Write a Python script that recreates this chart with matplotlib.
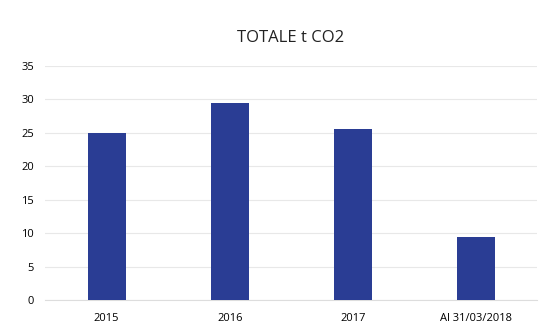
import matplotlib.pyplot as plt

categories = ["2015", "2016", "2017", "Al 31/03/2018"]
values = [25.0, 29.4, 25.6, 9.4]
yticks = [0, 5, 10, 15, 20, 25, 30, 35]

plt.rcParams['font.family'] = ['Open Sans', 'DejaVu Sans']

fig = plt.figure(figsize=(5.51, 3.28), dpi=100)
ax = fig.add_axes([0.082, 0.085, 0.893, 0.714])

x = range(len(categories))
ax.bar(x, values, width=0.31, color='#2a3d94', zorder=3)

ax.set_xlim(-0.5, len(categories) - 0.5)
ax.set_ylim(0, 35)
ax.set_yticks(yticks)
ax.set_xticks(list(x))
ax.set_xticklabels(categories, fontsize=8)
ax.tick_params(axis='y', labelsize=8, length=0, pad=8)
ax.tick_params(axis='x', length=0, pad=9)
ax.grid(axis='y', color='#e8e8e8', lw=0.8, zorder=0)
for s in ['top', 'right', 'left']:
    ax.spines[s].set_visible(False)
ax.spines['bottom'].set_color('#dddddd')

fig.text(0.528, 0.885, "TOTALE t CO2", ha='center', va='center', fontsize=12, color='#222222')

fig.savefig("out.png", dpi=100)
